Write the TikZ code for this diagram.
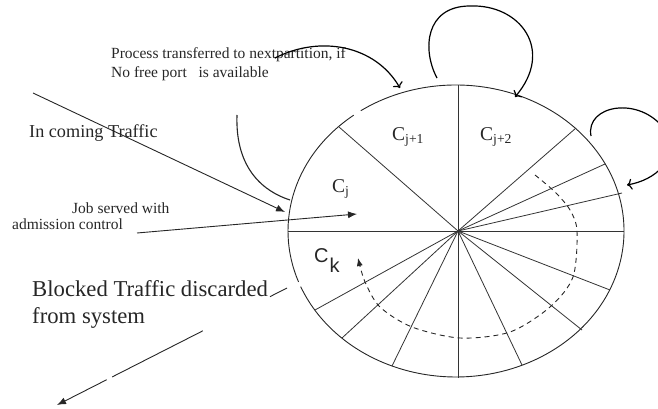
\documentclass[tikz,border=0pt]{standalone}
\usepackage{fontspec}
\setmainfont{Liberation Serif}
\newfontfamily\cksans{Liberation Sans}
\usetikzlibrary{arrows.meta,calc}
\tikzset{
  rim/.style   ={draw=black!85, line width=0.9pt},
  spoke/.style ={draw=black!80, line width=0.8pt},
  selfloop/.style ={draw=black, line width=1.2pt, -{To[length=5pt,width=11pt]}},
  feed/.style  ={draw=black!85, line width=0.9pt},
  tip/.style   ={-{Latex[length=9pt,width=7pt]}},
  bigtxt/.style={anchor=base west, inner sep=0pt, text=black!85, align=left,
                 font=\fontsize{18.2}{27}\selectfont},
  smalltxt/.style={anchor=base west, inner sep=0pt, text=black!85, align=left,
                 font=\fontsize{15.5}{19}\selectfont},
  part/.style  ={anchor=base west, inner sep=0pt, text=black!85,
                 font=\fontsize{19.5}{21}\selectfont},
}
\begin{document}
\begin{tikzpicture}[x=1pt,y=-1pt]
\useasboundingbox (0,0) rectangle (658,409);
% partitions
\coordinate (o) at (458,231);
\draw[rim] (456,231) ++(-124.5:168 and 146)
  arc[start angle=-124.5, end angle=157.6, x radius=168, y radius=146];
\draw[rim] (456,231) ++(159.6:168 and 146)
  arc[start angle=159.6, end angle=232.5, x radius=168, y radius=146];
\foreach \p in {(339,127),(576,128),(605,164),(622,193),(624,231),(610,290),
                (582,330),(522,365),(458,378),(392,366),(342,338),(315,310),
                (288,231),(458,85)}
  \draw[spoke] (o) -- \p;
\node[part] (cj)  at (332,192) {C\textsubscript{j}};
\node[part] (cj1) at (392,140) {C\textsubscript{j+1}};
\node[part] (cj2) at (480,140) {C\textsubscript{j+2}};
\node[part,font=\cksans\fontsize{20}{21}\selectfont] (ck) at (314,262)
  {C\kern1pt\raisebox{-10pt}{k}};

% texts
\node[bigtxt] (inc) at (29,138) {In coming Traffic};
\node[bigtxt,font=\fontsize{22.7}{27}\selectfont] (blk) at (32,323)
  {Blocked Traffic discarded\\from system};
\node[smalltxt] (prc) at (111,78) {Process transferred to nextpartition, if\\No free port \ \ is available};
\node[smalltxt] (job) at (72,213) {Job served with};
\node[smalltxt] (adm) at (12,229) {admission control};

% traffic arrows
\coordinate (in0) at (33,93);
\coordinate (in1) at (285,212);
\draw[feed,tip] (in0) -- (in1);
\coordinate (jb0) at (137,233);
\coordinate (jb1) at (357,214);
\draw[feed,tip] (jb0) -- (jb1);
\coordinate (bk0) at (287,288);
\coordinate (bk1) at (57,405);
\draw[feed] (bk0) -- ($(bk0)!0.074!(bk1)$);
\draw[feed] ($(bk0)!0.366!(bk1)$) -- ($(bk0)!0.76!(bk1)$);
\draw[feed,tip] ($(bk0)!0.784!(bk1)$) -- (bk1);

% transfers between partitions
\coordinate (tr0) at (275,58);
\coordinate (tr1) at (400,88);
\draw[selfloop] (tr0) .. controls (320,35) and (375,45) .. (tr1);
\coordinate (rt0) at (237,115);
\coordinate (rt1) at (290,200);
\draw[rim,line width=1.1pt] (rt0) .. controls (235,170) and (265,192) .. (rt1);
\coordinate (lp0) at (437,78);
\coordinate (lp1) at (470,6);
\coordinate (lp2) at (515,97);
\draw[selfloop] (lp0) .. controls (422,50) and (425,6) .. (lp1)
  .. controls (520,4) and (555,50) .. (lp2);
\coordinate (rl0) at (591,136);
\coordinate (rl1) at (665,130);
\coordinate (rl2) at (627,185);
\draw[selfloop] (rl0) .. controls (585,105) and (640,95) .. (rl1)
  .. controls (680,160) and (655,180) .. (rl2);

% service order
\draw[draw=black!85, line width=0.9pt, dash pattern=on 5pt off 4pt, -{Latex[length=8pt,width=6pt]}]
  plot[smooth] coordinates {(535,175) (555,192) (570,210) (577,231) (573,277)
    (550,307) (510,332) (460,338) (412,327) (380,307) (365,282) (358,258)};
\end{tikzpicture}
\end{document}
